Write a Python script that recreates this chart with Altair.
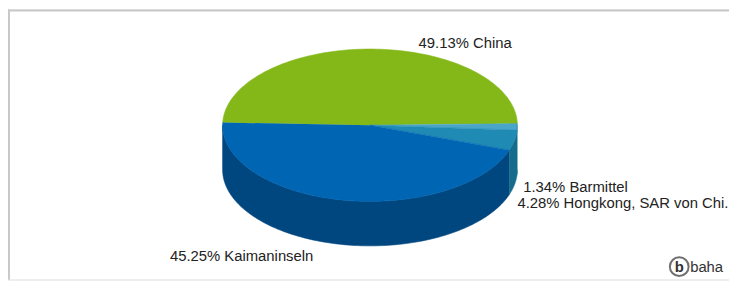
import altair as alt
import pandas as pd

# ---- data ----
categories = ["China", "Barmittel", "Hongkong, SAR von Chi.", "Kaimaninseln"]
shares = [49.13, 1.34, 4.28, 45.25]
label_texts = ["49.13% China", "1.34% Barmittel", "4.28% Hongkong, SAR von Chi.", "45.25% Kaimaninseln"]
top_colors = ["#84b819", "#4aa6c9", "#1f8ab3", "#0066b3"]
side_colors = ["#5e8712", "#2f7d9c", "#166c8c", "#00467f"]

# ---- layout ----
W, H = 729, 273
CX, CY, RX, RY, DEPTH = 366, 117, 149, 77, 45
START = 182
N = 120
FONT = "Liberation Sans"

df = pd.DataFrame({
    "category": categories,
    "share": shares,
    "label": label_texts,
    "order": list(range(len(categories))),
})

xs = alt.Scale(domain=[0, W], nice=False, zero=False)
ys = alt.Scale(domain=[H, 0], nice=False, zero=False)

base = alt.Chart(df).transform_window(
    cum="sum(share)", sort=[alt.SortField("order")], frame=[None, 0]
).transform_calculate(
    a0=f"{START} + (datum.cum - datum.share) * 3.6",
    a1=f"{START} + datum.cum * 3.6",
)

# top face of each slice
top = base.transform_calculate(
    steps=f"sequence(0, {N + 1})"
).transform_flatten(["steps"], as_=["k"]).transform_calculate(
    ang=f"(datum.a0 + (datum.a1 - datum.a0) * (datum.k - 1) / {N - 1}) * PI / 180",
    px=f"datum.k == 0 ? {CX} : {CX} + {RX} * cos(datum.ang)",
    py=f"datum.k == 0 ? {CY} : {CY} + {RY} * sin(datum.ang)",
).mark_line(strokeWidth=0.6, interpolate="linear").encode(
    x=alt.X("px:Q", scale=xs, axis=None),
    y=alt.Y("py:Q", scale=ys, axis=None),
    order=alt.Order("k:Q"),
    detail="category:N",
    fill=alt.Fill("category:N", scale=alt.Scale(domain=categories, range=top_colors), legend=None),
    stroke=alt.Stroke("category:N", scale=alt.Scale(domain=categories, range=top_colors), legend=None),
)

# visible front wall of each slice
side = base.transform_calculate(
    v0="max(datum.a0, 360)",
    v1="min(datum.a1, 540)",
).transform_filter("datum.v1 > datum.v0").transform_calculate(
    steps=f"sequence(0, {2 * N})"
).transform_flatten(["steps"], as_=["k"]).transform_calculate(
    t=f"datum.k < {N} ? datum.k / {N - 1} : 1 - (datum.k - {N}) / {N - 1}",
    ang="(datum.v0 + (datum.v1 - datum.v0) * datum.t) * PI / 180",
    px=f"{CX} + {RX} * cos(datum.ang)",
    py=f"{CY} + {RY} * sin(datum.ang) + (datum.k < {N} ? 0 : {DEPTH})",
).mark_line(strokeWidth=0.6, interpolate="linear").encode(
    x=alt.X("px:Q", scale=xs, axis=None),
    y=alt.Y("py:Q", scale=ys, axis=None),
    order=alt.Order("k:Q"),
    detail="category:N",
    fill=alt.Fill("category:N", scale=alt.Scale(domain=categories, range=side_colors), legend=None),
    stroke=alt.Stroke("category:N", scale=alt.Scale(domain=categories, range=side_colors), legend=None),
)

# labels anchored on slice mid-angles
lab = base.transform_calculate(
    mid="(datum.a0 + datum.a1) / 2 * PI / 180",
    lx=f"{CX} + {RX} * cos(datum.mid)",
    ly=f"{CY} + {RY} * sin(datum.mid)",
)

def label_layer(cat, align, dx, dy):
    return lab.transform_filter(alt.datum.category == cat).mark_text(
        align=align, baseline="alphabetic", dx=dx, dy=dy,
        font=FONT, fontSize=15, color="#222222",
    ).encode(
        x=alt.X("lx:Q", scale=xs, axis=None),
        y=alt.Y("ly:Q", scale=ys, axis=None),
        text="label:N",
    )

labels = [
    label_layer(categories[0], "left", 48, -1),
    label_layer(categories[1], "left", 6, 66),
    label_layer(categories[2], "left", 3, 68),
    label_layer(categories[3], "right", -30, 62),
]

one = pd.DataFrame({"a": [0]})

frame_top = alt.Chart(one).mark_rule(color="#c8c8c8", strokeWidth=2).encode(
    x=alt.value(0), x2=alt.value(W), y=alt.value(1)
)
frame_left = alt.Chart(one).mark_rule(color="#c8c8c8", strokeWidth=2).encode(
    x=alt.value(1), y=alt.value(0), y2=alt.value(H)
)

logo_circle = alt.Chart(one).mark_point(
    shape="circle", filled=False, size=360, strokeWidth=2, color="#333333"
).encode(x=alt.value(678.7), y=alt.value(260))
logo_b = alt.Chart(one).mark_text(
    text="b", font=FONT, fontSize=15, fontWeight="bold", color="#333333",
    align="center", baseline="middle"
).encode(x=alt.value(678.7), y=alt.value(260))
logo_txt = alt.Chart(one).mark_text(
    text="baha", font=FONT, fontSize=15, color="#333333",
    align="left", baseline="alphabetic"
).encode(x=alt.value(689.7), y=alt.value(265))

chart = alt.layer(
    frame_top, frame_left, side, top, *labels, logo_circle, logo_b, logo_txt
).resolve_scale(
    fill="independent", stroke="independent"
).properties(
    width=W, height=H, padding=0, autosize=alt.AutoSizeParams(type="none")
).configure_view(strokeWidth=0).configure(background="white")

chart.save("out.html", embed_options={"renderer": "svg", "actions": False})
